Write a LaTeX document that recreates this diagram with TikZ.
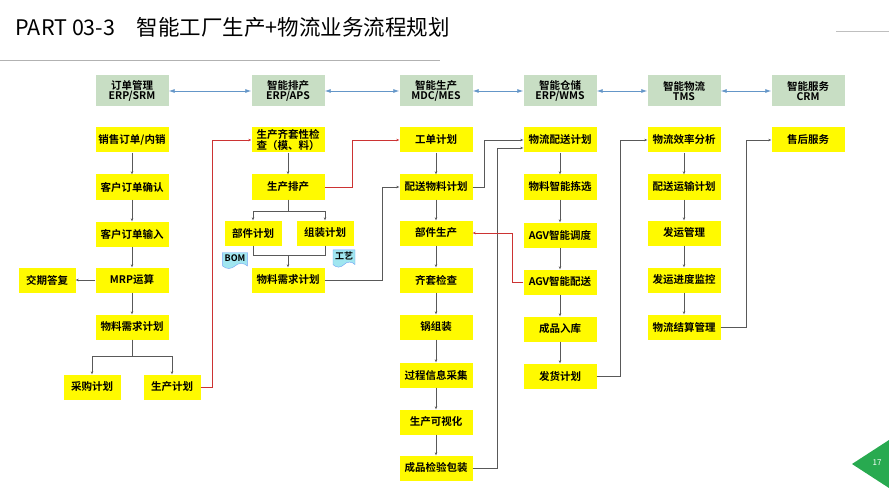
\documentclass[tikz,border=0pt]{standalone}
\usepackage{fontspec}
\setmainfont{Noto Sans CJK SC}
\newfontfamily\boldcjk{Noto Sans CJK SC Bold}
\usepackage{xcolor}
\usetikzlibrary{arrows.meta, positioning, shapes.symbols}
\definecolor{headgreen}{RGB}{200,222,196}
\definecolor{boxyellow}{RGB}{255,250,0}
\definecolor{linkblue}{RGB}{100,150,200}
\definecolor{tagcyan}{RGB}{160,230,240}
\definecolor{slidegreen}{RGB}{40,170,80}

\begin{document}
\begin{tikzpicture}[x=1pt, y=-1pt,
		% Define styles
		head/.style={
			rectangle,
			fill=headgreen,
			font=\boldcjk\fontsize{10.5}{10.5}\selectfont,
			minimum width=73pt,
			minimum height=31pt,
			align=center,
			inner sep=1pt
		},
		flow box/.style={
			rectangle,
			fill=boxyellow,
			font=\boldcjk\fontsize{10.5}{11.5}\selectfont,
			minimum width=73pt,
			minimum height=25pt,
			align=center,
			inner sep=1pt
		},
		small box/.style={flow box, minimum width=57pt},
		tag/.style={
			tape, tape bend top=none,
			fill=tagcyan,
			draw=tagcyan!70!blue,
			font=\boldcjk\fontsize{9}{10}\selectfont,
			inner sep=2pt
		},
		% Define arrow styles
		arrow/.style={-{Stealth[length=3pt,width=2.5pt]}, gray!70!black, semithick},
		redarrow/.style={-{Stealth[length=3pt,width=2.5pt]}, red!60!gray, semithick},
		link/.style={{Latex[length=6pt,width=4pt]}-{Latex[length=6pt,width=4pt]}, linkblue, thick}
		]
		
		\useasboundingbox (0,0) rectangle (889,500);
		
		% ----- Title -----
		\node[anchor=west, font=\fontsize{21.5}{23}\selectfont] (title) at (12,27) {PART 03-3\quad 智能工厂生产+物流业务流程规划};
		\draw[gray!60, thick] (0,60) -- (440,60);
		\draw[gray!50, thick] (836,31) -- (889,31);
		
		% ----- Systems (headers) -----
		\node[head] (order-sys) at (132,91) {订单管理\\ERP/SRM};
		\node[head] (plan-sys) at (288,91) {智能排产\\ERP/APS};
		\node[head] (prod-sys) at (436,91) {智能生产\\MDC/MES};
		\node[head] (store-sys) at (560,91) {智能仓储\\ERP/WMS};
		\node[head] (logi-sys) at (684,91) {智能物流\\TMS};
		\node[head] (serv-sys) at (808,91) {智能服务\\CRM};
		
		\draw[link] (order-sys) -- (plan-sys);
		\draw[link] (plan-sys) -- (prod-sys);
		\draw[link] (prod-sys) -- (store-sys);
		\draw[link] (store-sys) -- (logi-sys);
		\draw[link] (logi-sys) -- (serv-sys);
		
		% ----- Order column -----
		\node[flow box] (sales) at (132,140) {销售订单/内销};
		\node[flow box] (confirm) at (132,187) {客户订单确认};
		\node[flow box] (input) at (132,234) {客户订单输入};
		\node[flow box] (mrp) at (132,280) {MRP运算};
		\node[flow box] (mat-req) at (132,327) {物料需求计划};
		\node[small box] (reply) at (47,280) {交期答复};
		\node[small box] (purchase) at (92,387) {采购计划};
		\node[small box] (prod-plan) at (172,387) {生产计划};
		
		% ----- Scheduling column -----
		\node[flow box] (kit-check) at (288,140) {生产齐套性检\\查（模、料）};
		\node[flow box] (schedule) at (288,187) {生产排产};
		\node[small box] (part-plan) at (253,233) {部件计划};
		\node[small box] (asm-plan) at (325,233) {组装计划};
		\node[flow box] (mat-plan) at (288,280) {物料需求计划};
		\node[tag] (bom) at (235,258) {BOM};
		\node[tag] (craft) at (344,256) {工艺};
		
		% ----- Production column -----
		\node[flow box] (work-order) at (436,140) {工单计划};
		\node[flow box] (deliver-mat) at (436,187) {配送物料计划};
		\node[flow box] (part-prod) at (436,233) {部件生产};
		\node[flow box] (kit-ok) at (436,280) {齐套检查};
		\node[flow box] (pot) at (436,327) {锅组装};
		\node[flow box] (collect) at (436,375) {过程信息采集};
		\node[flow box] (visual) at (436,422) {生产可视化};
		\node[flow box] (pack) at (436,468) {成品检验包装};
		
		% ----- Warehouse column -----
		\node[flow box] (logi-plan) at (560,140) {物流配送计划};
		\node[flow box] (pick) at (560,187) {物料智能拣选};
		\node[flow box] (agv-disp) at (560,235) {AGV智能调度};
		\node[flow box] (agv-deliv) at (560,282) {AGV智能配送};
		\node[flow box] (in-store) at (560,329) {成品入库};
		\node[flow box] (ship-plan) at (560,376) {发货计划};
		
		% ----- Logistics column -----
		\node[flow box] (efficiency) at (684,140) {物流效率分析};
		\node[flow box] (transport) at (684,187) {配送运输计划};
		\node[flow box] (ship-mgmt) at (684,233) {发运管理};
		\node[flow box] (monitor) at (684,280) {发运进度监控};
		\node[flow box] (settle) at (684,327) {物流结算管理};
		
		% ----- Service column -----
		\node[flow box] (after-sale) at (808,140) {售后服务};
		
		% ----- Arrows to connect the nodes -----
		\draw[arrow] (sales) -- (confirm);
		\draw[arrow] (confirm) -- (input);
		\draw[arrow] (input) -- (mrp);
		\draw[arrow] (mrp) -- (reply);
		\draw[arrow] (mrp) -- (mat-req);
		\draw[arrow] (mat-req.south) -- ++(0,17) -| (purchase.north);
		\draw[arrow] (mat-req.south) -- ++(0,17) -| (prod-plan.north);
		\draw[redarrow] (prod-plan.east) -- ++(12,0) |- (kit-check.west);
		
		\draw[arrow] (kit-check) -- (schedule);
		\draw[arrow] (schedule.south) -- ++(0,12) -| (part-plan.north);
		\draw[arrow] (schedule.south) -- ++(0,12) -| (asm-plan.north);
		\draw[arrow] (part-plan.south) |- ++(35,10) -- (mat-plan.north);
		\draw[gray!70!black, semithick] (asm-plan.south) |- ++(-37,10);
		\draw[redarrow] (schedule.east) -- ++(28,0) |- (work-order.west);
		\draw[arrow] (mat-plan.east) -- ++(58,0) |- (deliver-mat.west);
		
		\draw[arrow] (work-order) -- (deliver-mat);
		\draw[arrow] (deliver-mat) -- (part-prod);
		\draw[arrow] (part-prod) -- (kit-ok);
		\draw[arrow] (kit-ok) -- (pot);
		\draw[arrow] (pot) -- (collect);
		\draw[arrow] (collect) -- (visual);
		\draw[arrow] (visual) -- (pack);
		\draw[arrow] (deliver-mat.east) -- ++(12,0) |- (logi-plan.west);
		\draw[arrow] (pack.east) -- ++(25,0) |- ([yshift=-8pt]logi-plan.west);
		
		\draw[arrow] (logi-plan) -- (pick);
		\draw[arrow] (pick) -- (agv-disp);
		\draw[arrow] (agv-disp) -- (agv-deliv);
		\draw[arrow] (agv-deliv) -- (in-store);
		\draw[arrow] (in-store) -- (ship-plan);
		\draw[redarrow] (agv-deliv.west) -- ++(-11,0) |- (part-prod.east);
		\draw[arrow] (ship-plan.east) -- ++(24,0) |- (efficiency.west);
		
		\draw[arrow] (efficiency) -- (transport);
		\draw[arrow] (transport) -- (ship-mgmt);
		\draw[arrow] (ship-mgmt) -- (monitor);
		\draw[arrow] (monitor) -- (settle);
		\draw[arrow] (settle.east) -- ++(26,0) |- (after-sale.west);
		
		% ----- Page number -----
		\fill[slidegreen] (852,464) -- (889,440) -- (889,488) -- cycle;
		\node[text=white, font=\fontsize{8}{9}\selectfont] (page) at (877,463) {17};
		
	\end{tikzpicture}
\end{document}
